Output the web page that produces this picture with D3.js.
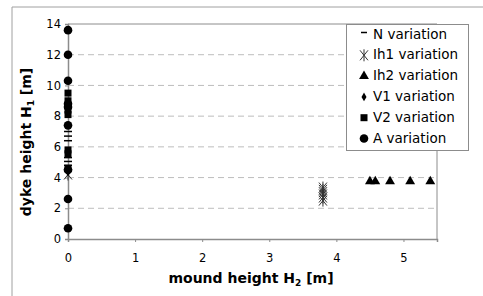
<!DOCTYPE html>
<meta charset="utf-8">
<head>
<script src="https://d3js.org/d3.v7.min.js"></script>
<style>
  body { margin: 0; background: #fff; }
  svg text { font-family: "DejaVu Sans", Verdana, sans-serif; fill: #000; }
  .tick text { font-size: 11px; }
  .axis-title { font-size: 14px; font-weight: bold; }
  .legend text { font-size: 13.5px; }
</style>
</head>
<body>
<svg id="chart" width="483" height="296"></svg>
<script>
    // values
    var xTicks = [0, 1, 2, 3, 4, 5];
    var yTicks = [0, 2, 4, 6, 8, 10, 12, 14];

    var nX = [0, 0, 0, 0, 0, 0];
    var nY = [7.0, 6.7, 6.4, 5.3, 5.05, 4.8];
    var ih1X = [3.8, 3.8, 3.8, 3.8, 3.8, 3.8, 0];
    var ih1Y = [2.5, 2.7, 2.9, 3.05, 3.2, 3.35, 4.2];
    var ih2X = [4.5, 4.58, 4.8, 5.1, 5.4];
    var ih2Y = [3.75, 3.75, 3.75, 3.75, 3.75];
    var v1X = [0, 0];
    var v1Y = [4.5, 4.35];
    var v2X = [0, 0, 0, 0, 0, 0, 0];
    var v2Y = [9.5, 9.0, 8.4, 8.1, 5.8, 5.55, 4.6];
    var aX = [0, 0, 0, 0, 0, 0, 0, 0, 0];
    var aY = [13.6, 12.0, 10.3, 8.8, 8.6, 7.4, 4.5, 2.6, 0.7];

    var seriesNames = ["N variation", "Ih1 variation", "Ih2 variation", "V1 variation", "V2 variation", "A variation"];

    var margin = {top: 24, left: 68},
        width = 369,
        height = 215;

    var svg = d3.select("#chart");

    // outer frame
    svg.append("path")
        .attr("d", "M12,296 V7 H483")
        .attr("fill", "none")
        .attr("stroke", "#a0a0a0")
        .attr("stroke-width", 1);

    var g = svg.append("g")
        .attr("transform", "translate(" + margin.left + "," + margin.top + ")");

    var x = d3.scaleLinear().domain([0, 5.5]).range([0, width]);
    var y = d3.scaleLinear().domain([0, 14]).range([height, 0]);

    // dashed grid lines
    g.selectAll(".grid")
        .data(yTicks.filter(function (d) { return d > 0 && d < 14; }))
        .enter().append("line")
        .attr("x1", 0).attr("x2", width)
        .attr("y1", function (d) { return y(d); })
        .attr("y2", function (d) { return y(d); })
        .attr("stroke", "#bdbdbd")
        .attr("stroke-dasharray", "6,4");

    // plot box
    g.append("path")
        .attr("d", "M0,0 H" + width + " V" + height)
        .attr("fill", "none")
        .attr("stroke", "#8c8c8c");

    var xAxis = g.append("g")
        .attr("transform", "translate(0," + height + ")")
        .call(d3.axisBottom(x).tickValues(xTicks).tickSize(3).tickPadding(12).tickFormat(d3.format("d")));
    var yAxis = g.append("g")
        .call(d3.axisLeft(y).tickValues(yTicks).tickSize(3).tickPadding(4).tickFormat(d3.format("d")));

    [xAxis, yAxis].forEach(function (a) {
        a.select(".domain").attr("stroke", "#8c8c8c").attr("stroke-width", 1.5);
        a.selectAll(".tick line").attr("stroke", "#8c8c8c");
        a.selectAll(".tick text").attr("fill", "#000").style("font-size", "11.5px");
    });

    // symbols
    function drawN(sel) {
        sel.append("line").attr("x1", -4).attr("x2", 4).attr("stroke", "#000").attr("stroke-width", 1.5);
    }
    function drawIh1(sel) {
        sel.append("path")
            .attr("d", "M-4,-5 L4,5 M4,-5 L-4,5 M0,-6 V6")
            .attr("stroke", "#333").attr("stroke-width", 1).attr("fill", "none");
    }
    function drawIh2(sel) {
        sel.append("path").attr("d", d3.symbol().type(d3.symbolTriangle).size(42)).attr("fill", "#000");
    }
    function drawV1(sel) {
        sel.append("path").attr("d", d3.symbol().type(d3.symbolDiamond).size(22)).attr("fill", "#000");
    }
    function drawV2(sel) {
        sel.append("rect").attr("x", -3.5).attr("y", -3.5).attr("width", 7).attr("height", 7).attr("fill", "#000");
    }
    function drawA(sel) {
        sel.append("circle").attr("r", 4.3).attr("fill", "#000");
    }

    var series = [
        {xs: nX, ys: nY, draw: drawN},
        {xs: ih1X, ys: ih1Y, draw: drawIh1},
        {xs: ih2X, ys: ih2Y, draw: drawIh2},
        {xs: v1X, ys: v1Y, draw: drawV1},
        {xs: v2X, ys: v2Y, draw: drawV2},
        {xs: aX, ys: aY, draw: drawA}
    ];

    series.forEach(function (s) {
        var pts = s.xs.map(function (v, i) { return [v, s.ys[i]]; });
        var m = g.append("g").selectAll("g")
            .data(pts)
            .enter().append("g")
            .attr("transform", function (d) { return "translate(" + x(d[0]) + "," + y(d[1]) + ")"; });
        s.draw(m);
    });

    // axis titles
    svg.append("text")
        .attr("class", "axis-title")
        .attr("x", 251).attr("y", 283)
        .attr("text-anchor", "middle")
        .html("mound height H<tspan font-size='9px' dy='3'>2</tspan><tspan dy='-3'> [m]</tspan>");

    svg.append("text")
        .attr("class", "axis-title")
        .attr("transform", "translate(31,142) rotate(-90)")
        .attr("text-anchor", "middle")
        .html("dyke height H<tspan font-size='9px' dy='3'>1</tspan><tspan dy='-3'> [m]</tspan>");

    // legend
    var legend = svg.append("g").attr("class", "legend")
        .attr("transform", "translate(346,24)");
    legend.append("rect")
        .attr("x", 0.5).attr("y", 0.5)
        .attr("width", 122).attr("height", 126)
        .attr("fill", "#fff").attr("stroke", "#8c8c8c");

    seriesNames.forEach(function (name, i) {
        var row = legend.append("g").attr("transform", "translate(0," + (14.5 + i * 20.8) + ")");
        var sym = row.append("g").attr("transform", "translate(18,-4)");
        if (i === 0) {
            sym.append("line").attr("x1", -3).attr("x2", 3).attr("y1", -2).attr("y2", -2).attr("stroke", "#000").attr("stroke-width", 1.5);
        } else {
            series[i].draw(sym);
        }
        row.append("text").attr("x", 27).attr("y", 0).text(name);
    });
</script>
</body>
